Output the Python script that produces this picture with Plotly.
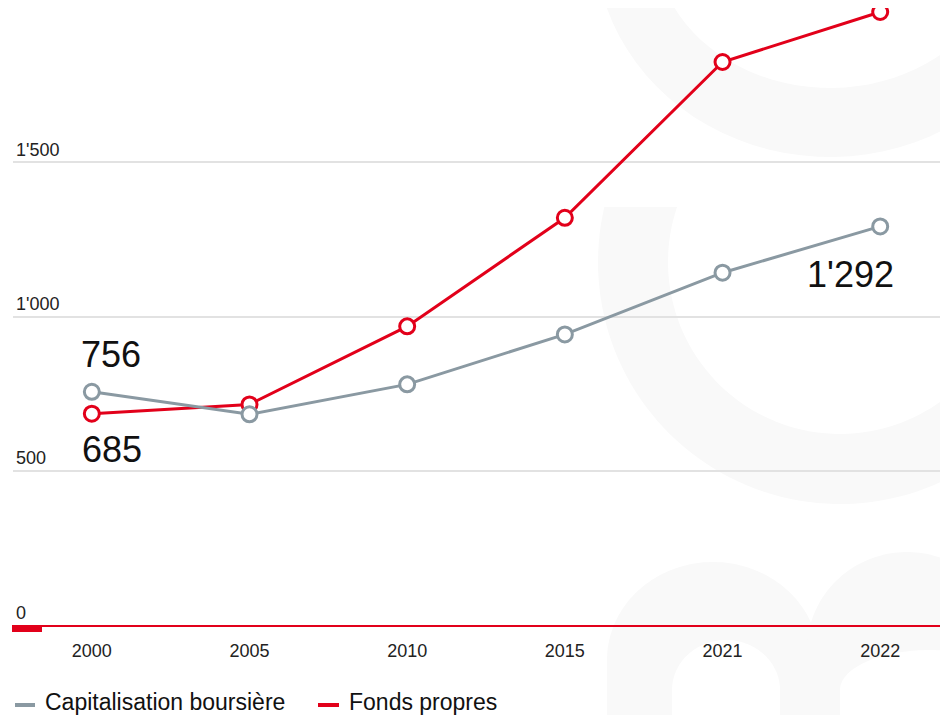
import numpy as np
import plotly.graph_objects as go

# valeurs (CHF mia)
annees = ["2000", "2005", "2010", "2015", "2021", "2022"]
capitalisation = [756, 683, 780, 942, 1142, 1292]
fonds_propres = [685, 715, 968, 1320, 1825, 1987]
y_ticks = [0, 500, 1000, 1500, 2000]

ROUGE = "#e2001a"
GRIS = "#8a99a2"
FILIGRANE = "#f9f9f9"
SANS = "Liberation Sans, Arial, sans-serif"

# la page ajoute 8px de marge autour de la figure
OFF = 8
W, H = 948 - OFF, 715 - OFF
ML, MR, MT, MB = 5, 0, 0, 90
PW, PH = W - ML - MR, H - MT - MB


def px(x, y):
    """pixel de la page -> coordonnées paper"""
    return (x - OFF - ML) / PW, (OFF + MT + PH - y) / PH


def path_from(points):
    parts = []
    for i, (x, y) in enumerate(points):
        u, v = px(x, y)
        parts.append(("M" if i == 0 else "L") + f"{u:.4f},{v:.4f}")
    return " ".join(parts) + " Z"


def arc(cx, cy, rx, ry, t0, t1, n=90):
    t = np.linspace(t0, t1, n)
    return list(zip(cx + rx * np.cos(t), cy + ry * np.sin(t)))


# filigrane en arrière-plan
anneau_haut = path_from(arc(830, -60, 235, 217, 0, 2 * np.pi)) + " " + \
    path_from(arc(830, -60, 175, 148, 2 * np.pi, 0))
c_milieu = path_from(
    arc(840, 262, 242, 242, np.pi + np.arcsin(55 / 242), 0)
    + arc(840, 262, 172, 172, 0, np.pi + np.arcsin(55 / 172))
)
arche_1 = path_from(
    [(607, 730)] + arc(713, 660, 106, 98, np.pi, 2 * np.pi) + [(819, 730), (780, 730)]
    + arc(726, 690, 54, 50, 2 * np.pi, np.pi) + [(672, 730)]
)
arche_2 = path_from(
    [(807, 730)] + arc(907, 650, 100, 98, np.pi, 2 * np.pi) + [(1007, 730), (1020, 730)]
    + arc(930, 690, 90, 40, 2 * np.pi, np.pi) + [(840, 730)]
)

shapes = [
    dict(type="path", path=p, xref="paper", yref="paper", layer="below",
         fillcolor=FILIGRANE, line=dict(width=0))
    for p in (anneau_haut, c_milieu, arche_1, arche_2)
]

# petite barre rouge sous l'axe
x0, y0 = px(12, 625)
x1, y1 = px(42, 632)
shapes.append(dict(type="rect", xref="paper", yref="paper", x0=x0, x1=x1, y0=y1, y1=y0,
                   fillcolor=ROUGE, line=dict(width=0)))

fig = go.Figure()
fig.add_trace(go.Scatter(
    x=annees, y=fonds_propres, name="Fonds propres", mode="lines+markers",
    line=dict(color=ROUGE, width=3),
    marker=dict(symbol="circle", size=15, color="white", line=dict(color=ROUGE, width=3)),
    cliponaxis=False, showlegend=False,
))
fig.add_trace(go.Scatter(
    x=annees, y=capitalisation, name="Capitalisation boursière", mode="lines+markers",
    line=dict(color=GRIS, width=3),
    marker=dict(symbol="circle", size=15, color="white", line=dict(color=GRIS, width=3)),
    cliponaxis=False, showlegend=False,
))

# étiquettes de valeurs (x = position de la catégorie)
etiquettes = [
    (0, capitalisation[0], 19, 37),
    (0, fonds_propres[0], 20, -36),
    (len(annees) - 1, capitalisation[-1], -30, -48),
]
annotations = [
    dict(x=x, y=y, xref="x", yref="y", text=f"{y:,}".replace(",", "'"), showarrow=False,
         xshift=dx, yshift=dy, font=dict(family=SANS, size=36, color="#111111"))
    for x, y, dx, dy in etiquettes
]

# légende dessinée à la main
legende = [("Capitalisation boursière", GRIS, 15, 35, 43), ("Fonds propres", ROUGE, 318, 339, 347)]
for texte, couleur, lx0, lx1, tx in legende:
    a0, b0 = px(lx0, 705)
    a1, _ = px(lx1, 705)
    shapes.append(dict(type="line", xref="paper", yref="paper", x0=a0, x1=a1, y0=b0, y1=b0,
                       line=dict(color=couleur, width=4)))
    ax_, ay_ = px(tx, 702)
    annotations.append(dict(x=ax_, y=ay_, xref="paper", yref="paper", text=texte,
                            showarrow=False, xanchor="left", yanchor="middle",
                            font=dict(family=SANS, size=23, color="#111111")))

fig.update_layout(
    width=W, height=H,
    margin=dict(l=ML, r=MR, t=MT, b=MB),
    paper_bgcolor="white", plot_bgcolor="rgba(0,0,0,0)",
    separators=".'",
    shapes=shapes, annotations=annotations,
    showlegend=False,
    xaxis=dict(type="category", range=[-0.5, 5.43], showgrid=False, zeroline=False,
               showline=True, linecolor=ROUGE, linewidth=2,
               tickfont=dict(family=SANS, size=18, color="#222222"),
               ticklabelstandoff=8),
    yaxis=dict(range=[0, 2000], tickvals=y_ticks, tickformat=",", showline=False,
               zeroline=False, gridcolor="#e2e2e2", gridwidth=1.5,
               ticklabelposition="inside top",
               tickfont=dict(family=SANS, size=18, color="#222222")),
)

fig.write_html("out.html")
